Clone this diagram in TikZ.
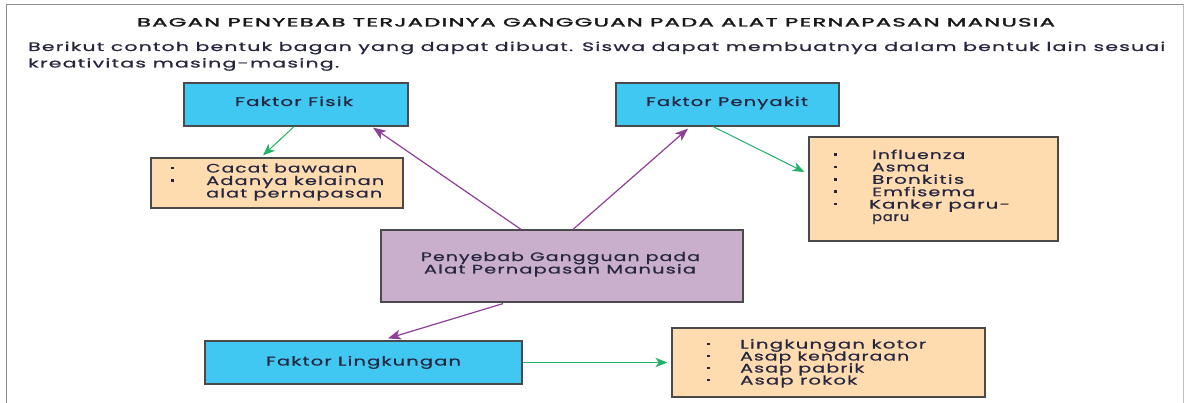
\documentclass[tikz,border=0pt]{standalone}
\usepackage{fontspec}
\usepackage{graphicx}
\setmainfont{Poppins}[LetterSpace=6,FakeBold=0.6]
\newfontfamily\ttlfont{Poppins}[LetterSpace=6,FakeBold=1.8]
\usetikzlibrary{arrows.meta,calc}
\definecolor{cyanfill}{HTML}{40C8F2}
\definecolor{peachfill}{HTML}{FFDCB0}
\definecolor{lilacfill}{HTML}{C9AFCC}
\definecolor{edgec}{HTML}{4A4A4A}
\definecolor{purp}{HTML}{8E3F96}
\definecolor{grn}{HTML}{22B26A}
\definecolor{ink}{HTML}{262640}
\newcommand\fitw[2]{\resizebox{#1pt}{\height}{#2}}
\newcommand\litem[5]{\node[ltxt] (#1) at (#2,#3) {\fitw{#4}{#5}};}
\newcommand\bul[2]{\fill[ink] (#1-1.5,#2-4.5-1.3) rectangle ++(3,2.6);}
\begin{document}
\begin{tikzpicture}[x=1pt,y=-1pt,
  rectbase/.style={draw=edgec, line width=1.2pt, inner sep=0pt, anchor=center},
  cyanrect/.style={rectbase, fill=cyanfill},
  peachrect/.style={rectbase, fill=peachfill},
  lilacrect/.style={rectbase, fill=lilacfill},
  txt/.style={inner sep=0pt, anchor=base, text=ink, font=\fontsize{12.3}{12}\selectfont},
  ltxt/.style={txt, anchor=base west},
  btxt/.style={txt, font=\fontsize{12.5}{12}\selectfont},
  parr/.style={draw=purp, line width=1.2pt, -{Stealth[length=13pt,width=10pt,inset=3.5pt]}},
  garr/.style={draw=grn, line width=1pt, -{Stealth[length=12pt,width=9.5pt,inset=3.5pt]}}]
\useasboundingbox (0,0) rectangle (1185,403);
\fill[white] (0,0) rectangle (1185,403);
% frame
\draw[color=black!45, line width=1.8pt] (6.5,410) -- (6.5,4.5) -- (1183.5,4.5);
\draw[color=black!25, line width=1.2pt] (1183.5,4.5) -- (1183.5,410);
% header texts
\node[txt, font=\ttlfont\fontsize{12}{12}\selectfont, text=black!90] (title) at (596,26.5)
  {\fitw{918}{BAGAN PENYEBAB TERJADINYA GANGGUAN PADA ALAT PERNAPASAN MANUSIA}};
\node[ltxt] (intro1) at (28,51)
  {\fitw{1137}{Berikut contoh bentuk bagan yang dapat dibuat. Siswa dapat membuatnya dalam bentuk lain sesuai}};
\node[ltxt] (intro2) at (28,67.5) {\fitw{311}{kreativitas masing-masing.}};
% boxes
\node[cyanrect, minimum width=224pt, minimum height=43pt] (fisik) at (296,104.5) {};
\node[cyanrect, minimum width=223pt, minimum height=43pt] (penyakit) at (727.5,104.5) {};
\node[peachrect, minimum width=252pt, minimum height=50pt] (cacat) at (277,183) {};
\node[peachrect, minimum width=249pt, minimum height=104pt] (plist) at (933.5,189) {};
\node[lilacrect, minimum width=362pt, minimum height=72pt] (center) at (562,266) {};
\node[cyanrect, minimum width=317pt, minimum height=43pt] (lingk) at (363.5,362.5) {};
\node[peachrect, minimum width=313pt, minimum height=69pt] (llist) at (828.5,362.5) {};
% box labels
\node[btxt] (fisikt) at (294,106) {\fitw{118}{Faktor Fisik}};
\node[btxt] (penyakitt) at (727,106) {\fitw{162}{Faktor Penyakit}};
\node[btxt] (lingkt) at (363.5,365.5) {\fitw{195}{Faktor Lingkungan}};
\node[txt] (centert1) at (560.5,261) {\fitw{279}{Penyebab Gangguan pada}};
\node[txt] (centert2) at (560,273.5) {\fitw{272}{Alat Pernapasan Manusia}};
% list: cacat
\bul{172}{172.5}\bul{172}{185}
\litem{c1}{206}{172.5}{151}{Cacat bawaan}
\litem{c2}{206}{185}{178}{Adanya kelainan}
\litem{c3}{206}{197.5}{176}{alat pernapasan}
% list: penyakit
\bul{835}{159}\bul{835}{171.4}\bul{835}{183.8}\bul{835}{196.2}\bul{835}{208.6}
\litem{p1}{872}{159}{93}{Influenza}
\litem{p2}{872}{171.4}{57}{Asma}
\litem{p3}{872}{183.8}{92}{Bronkitis}
\litem{p4}{872}{196.2}{103}{Emfisema}
\litem{p5}{869}{208.6}{141}{Kanker paru-}
\litem{p6}{872}{221}{37}{paru}
% list: lingkungan
\bul{708}{348.5}\bul{708}{360.5}\bul{708}{372.5}\bul{708}{384.5}
\litem{l1}{740}{348.5}{186}{Lingkungan kotor}
\litem{l2}{740}{360.5}{169}{Asap kendaraan}
\litem{l3}{740}{372.5}{124}{Asap pabrik}
\litem{l4}{740}{384.5}{117}{Asap rokok}
% connectors
\draw[garr] ($(fisik.south)+(-2,0)$) -- ($(cacat.north)+(-14,-2)$);
\draw[parr] ($(center.north)+(-41,0)$) -- ($(fisik.south)+(77,1)$);
\draw[parr] ($(center.north)+(11,0)$) -- ($(penyakit.south)+(-39.5,2)$);
\draw[garr] ($(penyakit.south)+(-14.5,0)$) -- ($(plist.west)+(-4,-17)$);
\draw[parr] ($(center.south)+(-59,1)$) -- ($(lingk.north)+(24.5,-2)$);
\draw[garr] (lingk.east) -- ($(llist.west)+(-4,0)$);
\end{tikzpicture}
\end{document}
